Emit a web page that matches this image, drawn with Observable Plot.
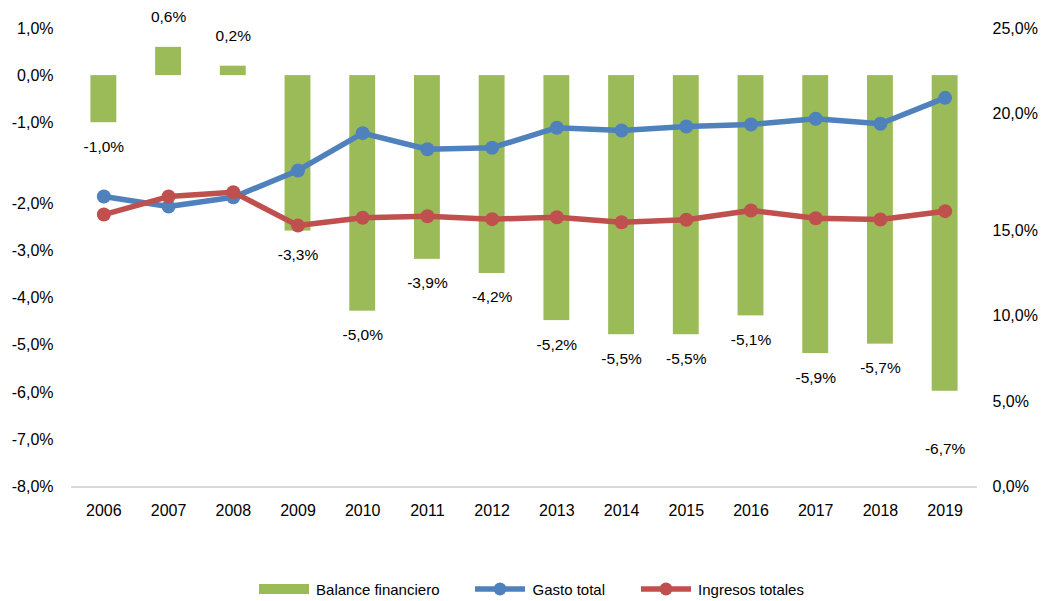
<!DOCTYPE html>
<html>
<head>
<meta charset="utf-8">
<script src="https://cdn.jsdelivr.net/npm/d3@7"></script>
<script src="https://cdn.jsdelivr.net/npm/@observablehq/plot@0.6"></script>
<style>
  html, body { margin: 0; padding: 0; background: #fff; }
  #chart { position: relative; width: 1044px; height: 601px; background: #fff; font-family: "Liberation Sans", Arial, sans-serif; color: #000; }
  #chart svg { position: absolute; top: 0; left: 0; }
  #legend { position: absolute; top: 578px; left: 0; width: 1044px; height: 22px; display: flex; justify-content: center; align-items: center; font-size: 15px; padding-left: 19px; box-sizing: border-box; }
  .item { display: flex; align-items: center; margin: 0 18px; }
  .item svg { position: static !important; margin-right: 7px; }
</style>
</head>
<body>
<div id="chart"></div>
<script>
// ---- data ----
const years = ["2006","2007","2008","2009","2010","2011","2012","2013","2014","2015","2016","2017","2018","2019"];
const balance = [-1.0, 0.6, 0.2, -3.3, -5.0, -3.9, -4.2, -5.2, -5.5, -5.5, -5.1, -5.9, -5.7, -6.7];
const gasto = [15.09, 14.50, 15.05, 16.63, 18.83, 17.88, 17.97, 19.15, 18.99, 19.22, 19.34, 19.68, 19.38, 20.91];
const ingresos = [14.03, 15.09, 15.35, 13.38, 13.84, 13.93, 13.76, 13.87, 13.58, 13.72, 14.27, 13.81, 13.74, 14.23];
const leftTicks = [1, 0, -1, -2, -3, -4, -5, -6, -7, -8];
const rightTicks = [25, 20, 15, 10, 5, 0];
const seriesNames = ["Balance financiero", "Gasto total", "Ingresos totales"];
const colors = ["#9bbb59", "#4f81bd", "#c0504d"];

const balData = years.map((year, i) => ({year, value: balance[i]}));
const gasData = years.map((year, i) => ({year, value: gasto[i]}));
const ingData = years.map((year, i) => ({year, value: ingresos[i]}));

const fmt = v => v.toFixed(1).replace(".", ",") + "%";
const font = "'Liberation Sans', Arial, sans-serif";
const W = 1044, H = 530;
const common = {
  width: W, height: H, marginLeft: 71, marginRight: 67, marginTop: 0, marginBottom: 44,
  style: {fontFamily: font, fontSize: "16px", background: "transparent", color: "#000", overflow: "visible"}
};
const xScale = {type: "band", domain: years, paddingInner: 0.6, paddingOuter: 0.3, align: 0.5, round: false};

// Bars + bar labels + year labels
const barsPlot = Plot.plot({
  ...common,
  x: {...xScale, axis: "bottom", tickSize: 0, tickPadding: 18, label: null},
  y: {type: "linear", domain: [-8, 1], range: [452, 28], axis: null},
  marks: [
    Plot.barY(balData, {x: "year", y: "value", fill: colors[0]}),
    Plot.text(balData, {filter: d => d.value < 0 && d.year !== "2019", x: "year", y: "value", text: d => fmt(d.value), dy: 24, fontSize: 15.5, fill: "#000"}),
    Plot.text(balData, {filter: d => d.year === "2019", x: "year", y: "value", text: d => fmt(d.value), dy: 58, fontSize: 15.5, fill: "#000"}),
    Plot.text(balData, {filter: d => d.value > 0, x: "year", y: "value", text: d => fmt(d.value), dy: -30, fontSize: 15.5, fill: "#000"})
  ]
});

// Lines (right-axis values)
const linesPlot = Plot.plot({
  ...common,
  x: {...xScale, axis: null},
  y: {type: "linear", domain: [0, 25], range: [452, 28], axis: null},
  marks: [
    Plot.line(gasData, {x: "year", y: "value", stroke: colors[1], strokeWidth: 5.5}),
    Plot.dot(gasData, {x: "year", y: "value", r: 7, fill: colors[1]}),
    Plot.line(ingData, {x: "year", y: "value", stroke: colors[2], strokeWidth: 5.5}),
    Plot.dot(ingData, {x: "year", y: "value", r: 7, fill: colors[2]})
  ]
});

// Left axis (balance) with baseline
const leftAxis = Plot.plot({
  ...common,
  y: {type: "linear", domain: [1, -1, -2, -8], range: [28.5, 122.5, 203, 486.5], axis: "left", ticks: leftTicks, tickFormat: fmt, tickSize: 0, tickPadding: 18, label: null},
  marks: [
    Plot.ruleY([-8], {stroke: "#d9d9d9", strokeWidth: 2})
  ]
});

// Right axis (gasto / ingresos)
const rightAxis = Plot.plot({
  ...common,
  y: {type: "linear", domain: [25, 20, 15, 0], range: [28.3, 113.3, 230, 486.7], axis: "right", ticks: rightTicks, tickFormat: fmt, tickSize: 0, tickPadding: 15, label: null},
  marks: [
    Plot.ruleY(rightTicks, {stroke: "none"})
  ]
});

const chart = document.getElementById("chart");
[barsPlot, linesPlot, leftAxis, rightAxis].forEach(p => chart.appendChild(p));

// Legend
const legend = document.createElement("div");
legend.id = "legend";
seriesNames.forEach((name, i) => {
  const item = document.createElement("div");
  item.className = "item";
  const ns = "http://www.w3.org/2000/svg";
  const sw = document.createElementNS(ns, "svg");
  sw.setAttribute("width", 50); sw.setAttribute("height", 16);
  if (i === 0) {
    const r = document.createElementNS(ns, "rect");
    r.setAttribute("x", 0); r.setAttribute("y", 3); r.setAttribute("width", 50); r.setAttribute("height", 10);
    r.setAttribute("fill", colors[i]);
    sw.appendChild(r);
  } else {
    const l = document.createElementNS(ns, "line");
    l.setAttribute("x1", 0); l.setAttribute("x2", 50); l.setAttribute("y1", 8); l.setAttribute("y2", 8);
    l.setAttribute("stroke", colors[i]); l.setAttribute("stroke-width", 5.5);
    const c = document.createElementNS(ns, "circle");
    c.setAttribute("cx", 25); c.setAttribute("cy", 8); c.setAttribute("r", 6.5); c.setAttribute("fill", colors[i]);
    sw.appendChild(l); sw.appendChild(c);
  }
  const t = document.createElement("span");
  t.textContent = name;
  item.appendChild(sw); item.appendChild(t);
  legend.appendChild(item);
});
chart.appendChild(legend);
</script>
</body>
</html>
